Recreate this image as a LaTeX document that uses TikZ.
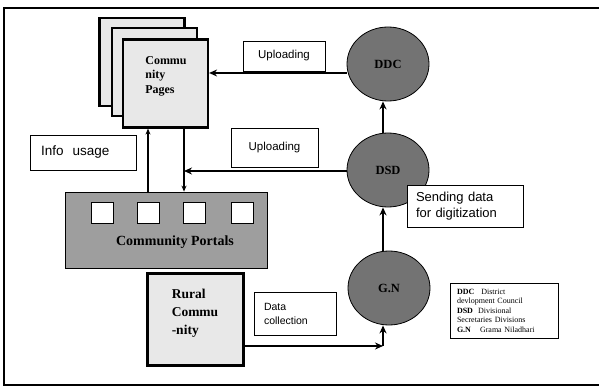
\documentclass[tikz,border=0pt]{standalone}
\usepackage{fontspec}
\setmainfont{Liberation Serif}
\newfontfamily\sansf{Liberation Sans}
\usetikzlibrary{arrows.meta,shapes.geometric}
\begin{document}
\begin{tikzpicture}[x=1pt,y=-1pt,
  page/.style={draw=black,line width=2.2pt,fill=black!9,minimum width=85pt,minimum height=88pt,inner sep=0pt},
  circ/.style={ellipse,draw=black,line width=0.8pt,fill=black!55,minimum width=82pt,minimum height=74pt,inner sep=0pt,font=\fontsize{12.5}{12.5}\selectfont\bfseries},
  lbl/.style={draw=black,line width=0.7pt,fill=white,inner ysep=0pt,align=left},
  thk/.style={line width=2.4pt,-{Stealth[length=8pt,width=7pt]}},
  thn/.style={line width=1.3pt,-{Stealth[length=6pt,width=5pt]}},
  sq/.style={draw=black,line width=0.6pt,fill=white,minimum width=22pt,minimum height=21pt,inner sep=0pt}
]
\useasboundingbox (0,0) rectangle (599,390);
\fill[white] (0,0) rectangle (599,390);
% frame
\draw[line width=1.6pt] (599,8) -- (4,8) -- (4,385) -- (599,385);

% community pages
\node[page] (pg1) at (142,62) {};
\node[page] (pg2) at (154.5,72) {};
\node[page] (pg3) at (165.5,83.5) {};
\node[font=\fontsize{12}{14.5}\selectfont\bfseries,align=left,inner sep=0pt] (pgtxt) at (166,76) {Commu\\nity\\Pages};

% community portals
\node[draw=black,line width=0.8pt,fill=black!38,minimum width=202pt,minimum height=76pt,inner sep=0pt] (portal) at (166,230) {};
\node[sq] (s1) at (102,212.5) {};
\node[sq] (s2) at (148,212.5) {};
\node[sq] (s3) at (194,212.5) {};
\node[sq] (s4) at (242,212.5) {};
\node[font=\fontsize{14}{14}\selectfont\bfseries,inner sep=0pt] (portaltxt) at (175,242) {Community Portals};

% rural community
\node[draw=black,line width=3pt,fill=black!9,minimum width=96pt,minimum height=92pt,inner sep=0pt] (rural) at (195,319) {};
\node[font=\fontsize{13.5}{18}\selectfont\bfseries,align=left,inner sep=0pt] (ruraltxt) at (195,313) {Rural\\Commu\\-nity};

% circles
\node[circ] (DDC) at (388,64) {DDC};
\node[circ] (DSD) at (388,170) {DSD};
\node[circ] (GN) at (389,288) {G.N};

% connectors
\coordinate (ax) at (383,0);
\coordinate (dn) at (184,0);
\coordinate (upx) at (148,0);
\coordinate (u1) at (0,73);
\coordinate (u2) at (0,171);
\coordinate (corner) at (383,346);
\draw[thk] (DSD.north -| ax) -- (DDC.south -| ax);
\draw[thk] (GN.north -| ax) -- (DSD.south -| ax);
\draw[thk] (DDC.west |- u1) -- (pg3.east |- u1);
\draw[thk] (DSD.west |- u2) -- (dn |- u2);
\draw[thn] (portal.north -| upx) -- (pg3.south -| upx);
\draw[thn] (pg3.south -| dn) -- (portal.north -| dn);
\draw[thk] (rural.east |- corner) -- (corner);
\draw[thk] (corner) -- (GN.south -| corner);

% labels
\node[lbl,minimum width=82pt,minimum height=30pt,font=\sansf\fontsize{11.5}{13}\selectfont] (up1) at (284,56) {Uploading};
\node[lbl,minimum width=87pt,minimum height=39pt,font=\sansf\fontsize{11.5}{13}\selectfont] (up2) at (274.5,147.5) {Uploading};
\node[lbl,inner xsep=11pt,text width=84pt,minimum height=35pt,font=\sansf\fontsize{13.5}{15}\selectfont] (info) at (83,152.5) {Info\ \ usage};
\node[lbl,inner xsep=9pt,text width=98pt,minimum height=42pt,font=\sansf\fontsize{13}{16}\selectfont] (send) at (465,206) {Sending data\\for digitization};
\node[lbl,inner xsep=10pt,text width=62pt,minimum height=43pt,font=\sansf\fontsize{10.5}{14}\selectfont] (data) at (295,313.5) {Data\\collection};
\node[lbl,inner xsep=7pt,text width=94pt,minimum height=55pt,font=\fontsize{8}{9.5}\selectfont] (legend) at (504,310.5) {\textbf{DDC}\hspace{7pt}District\\devlopment Council\\\textbf{DSD}\hspace{5pt}Divisional\\Secretaries Divisions\\\textbf{G.N}\hspace{9pt}Grama Niladhari};
\end{tikzpicture}
\end{document}
